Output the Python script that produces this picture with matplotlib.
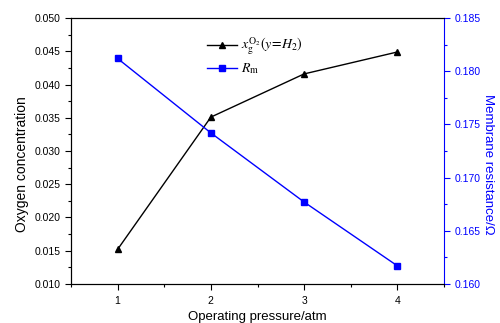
import matplotlib
matplotlib.use("Agg")
import matplotlib.pyplot as plt
from matplotlib.ticker import MultipleLocator

plt.rcParams['font.family'] = ['Liberation Sans', 'DejaVu Sans']
plt.rcParams['mathtext.fontset'] = 'stix'

pressure = [1, 2, 3, 4]
oxygen = [0.0152, 0.0351, 0.0416, 0.0449]
resistance = [0.1812, 0.1742, 0.1677, 0.1617]

blue = '#0000ff'

fig = plt.figure(figsize=(5.0, 3.23), dpi=100)
ax = fig.add_axes([0.142, 0.121, 0.746, 0.823])
ax2 = ax.twinx()

l1, = ax.plot(pressure, oxygen, color='black', lw=1, marker='^', ms=5,
              label=r'$x_{\rm g}^{\rm O_2}(y\!=\!H_2)$')
l2, = ax2.plot(pressure, resistance, color=blue, lw=1, marker='s', ms=4.5,
               label=r'$R_{\rm m}$')

ax.set_xlim(0.5, 4.5)
ax.set_ylim(0.010, 0.050)
ax2.set_ylim(0.160, 0.185)

ax.xaxis.set_major_locator(MultipleLocator(1))
ax.xaxis.set_minor_locator(MultipleLocator(0.5))
ax.yaxis.set_major_locator(MultipleLocator(0.005))
ax.yaxis.set_minor_locator(MultipleLocator(0.0025))
ax2.yaxis.set_major_locator(MultipleLocator(0.005))
ax2.yaxis.set_minor_locator(MultipleLocator(0.0025))

ax.yaxis.set_major_formatter(lambda v, p: f'{v:.3f}')
ax2.yaxis.set_major_formatter(lambda v, p: f'{v:.3f}')

ax.tick_params(axis='both', which='major', direction='out', length=4, width=0.8, labelsize=7.5)
ax.tick_params(axis='both', which='minor', direction='out', length=2, width=0.8)
ax.tick_params(axis='x', pad=5)
ax2.tick_params(axis='y', which='major', direction='out', length=4, width=0.8,
                colors=blue, labelsize=7.5)
ax2.tick_params(axis='y', which='minor', direction='out', length=2, width=0.8, colors=blue)

ax2.spines['right'].set_color(blue)
ax.spines['right'].set_visible(False)

ax.set_xlabel('Operating pressure/atm', fontsize=9.5, labelpad=3)
ax.set_ylabel('Oxygen concentration', fontsize=10, labelpad=4)
ax2.set_ylabel('Membrane resistance/Ω', fontsize=9.5, color=blue, rotation=270, labelpad=10)
# both side labels sit a bit below the axes centre in the original
ax.yaxis.label.set_y(0.45)
ax2.yaxis.label.set_y(0.45)

leg = ax.legend(handles=[l1, l2], loc='upper left', bbox_to_anchor=(0.33, 0.98),
                frameon=False, fontsize=10, handlelength=2.2, handletextpad=0.3,
                labelspacing=0.3)

fig.savefig('out.png', dpi=100)
